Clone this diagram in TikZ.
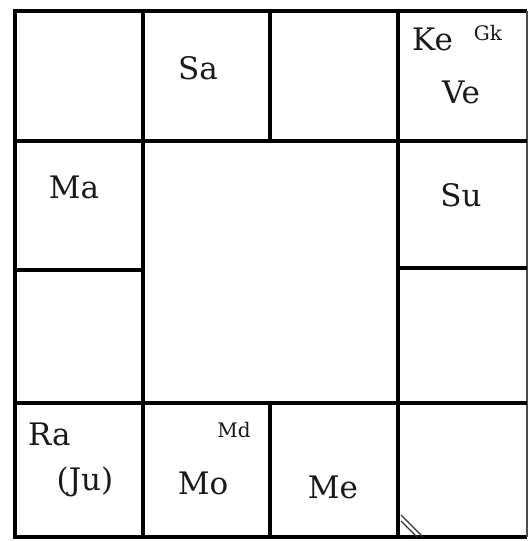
\documentclass[tikz,border=0pt]{standalone}
\usepackage{fontspec}
\setmainfont{DejaVu Serif}
\begin{document}
\begin{tikzpicture}[x=1pt,y=-1pt,
  grid/.style={line width=4.5pt,black},
  planet/.style={font=\fontsize{31}{34}\selectfont,inner sep=0pt,text=black!90},
  small/.style={font=\fontsize{20}{22}\selectfont,inner sep=0pt,text=black!90},
  diagmark/.style={line width=1.3pt,black!80}]
\useasboundingbox (0,0) rectangle (529,541);
\fill[white] (0,0) rectangle (529,541);
% corners
\coordinate (tl) at (15,11);
\coordinate (tr) at (527,11);
\coordinate (bl) at (15,537);
\coordinate (br) at (527,537);
% outer frame
\draw[grid] (tr) -- (tl) -- (bl) -- (br);
\draw[line width=2.5pt,black!70] (tr) -- (br);
% horizontal lines
\draw[grid] (15,141) -- (527,141);
\draw[grid] (15,403) -- (527,403);
\draw[grid] (15,270) -- (143,270);
\draw[grid] (398,268) -- (527,268);
% vertical lines
\draw[grid] (143,11) -- (143,537);
\draw[grid] (398,11) -- (398,537);
\draw[grid] (270,11) -- (270,141);
\draw[grid] (270,403) -- (270,537);
% double diagonal mark
\coordinate (m1a) at (401,515);
\coordinate (m1b) at (423,537);
\coordinate (m2a) at (401,521);
\coordinate (m2b) at (417,537);
\draw[diagmark] (m1a) -- (m1b);
\draw[diagmark] (m2a) -- (m2b);
% labels
\node[planet] (sa) at (198,68) {Sa};
\node[planet,anchor=west] (ke) at (412,39) {Ke};
\node[small] (gk) at (488,33) {Gk};
\node[planet] (ve) at (461,92) {Ve};
\node[planet] (ma) at (74,187) {Ma};
\node[planet] (su) at (461,195) {Su};
\node[planet,anchor=west] (ra) at (28,434) {Ra};
\node[planet] (ju) at (85,482) {(Ju)};
\node[small] (md) at (234,430) {Md};
\node[planet] (mo) at (203,483) {Mo};
\node[planet] (me) at (333,487) {Me};
\end{tikzpicture}
\end{document}
